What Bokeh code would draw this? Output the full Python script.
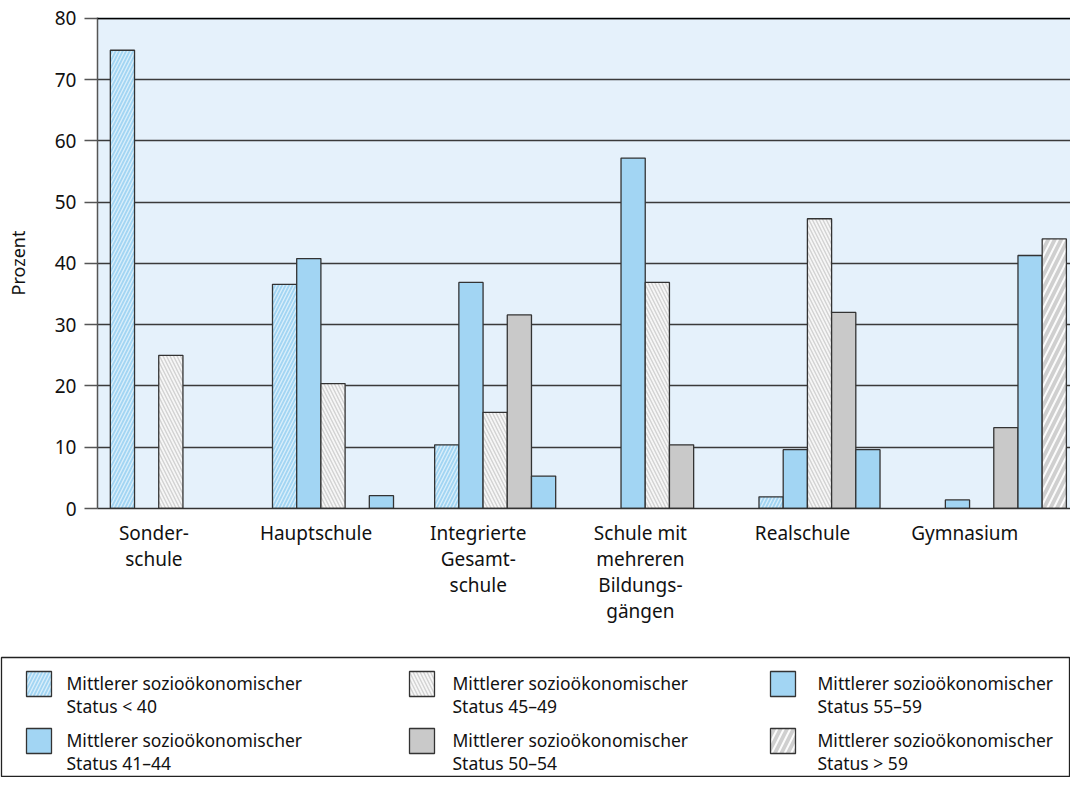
from bokeh.plotting import figure
from bokeh.models import Range1d, FixedTicker, ColumnDataSource, Span
from bokeh.embed import file_html
from bokeh.resources import INLINE

# ---------------- data ----------------
categories = [
    "Sonder-\nschule",
    "Hauptschule",
    "Integrierte\nGesamt-\nschule",
    "Schule mit\nmehreren\nBildungs-\ngängen",
    "Realschule",
    "Gymnasium",
]
series_labels = [
    "Mittlerer sozioökonomischer\nStatus < 40",
    "Mittlerer sozioökonomischer\nStatus 41–44",
    "Mittlerer sozioökonomischer\nStatus 45–49",
    "Mittlerer sozioökonomischer\nStatus 50–54",
    "Mittlerer sozioökonomischer\nStatus 55–59",
    "Mittlerer sozioökonomischer\nStatus > 59",
]
status_lt40 = [74.8, 36.6, 10.4, 0.0, 1.9, 0.0]
status_41_44 = [0.0, 40.8, 36.9, 57.2, 9.6, 1.4]
status_45_49 = [25.0, 20.4, 15.7, 36.9, 47.3, 0.0]
status_50_54 = [0.0, 0.0, 31.6, 10.4, 32.0, 13.2]
status_55_59 = [0.0, 2.1, 5.3, 0.0, 9.6, 41.3]
status_gt59 = [0.0, 0.0, 0.0, 0.0, 0.0, 44.0]
y_ticks = [0, 10, 20, 30, 40, 50, 60, 70, 80]

series_values = [status_lt40, status_41_44, status_45_49,
                 status_50_54, status_55_59, status_gt59]

# ---------------- styles ----------------
FONT = "Noto Sans"
BLUE = "#a2d5f3"
GRAY = "#c9c9c9"
OUTLINE = "#333333"
styles = [
    dict(fill_color=BLUE, hatch_pattern="/", hatch_color="white", hatch_alpha=0.6,
         hatch_scale=7, hatch_weight=1.3),
    dict(fill_color=BLUE),
    dict(fill_color="#f6f6f6", hatch_pattern="\\", hatch_color="#d2d2d2", hatch_alpha=1.0,
         hatch_scale=7, hatch_weight=1.4),
    dict(fill_color=GRAY),
    dict(fill_color=BLUE),
    dict(fill_color="#fbfbfb", hatch_pattern="/", hatch_color="#cfcfcf", hatch_alpha=1.0,
         hatch_scale=13, hatch_weight=3.8),
]

GROUP_STRIDE = 6.7   # slots per category (6 bars + gap)
LABEL_OFFSET = 1.8

# ---------------- main chart ----------------
p = figure(width=1070, height=656,
           x_range=Range1d(-0.53, 39.67), y_range=Range1d(0, 80.15),
           output_backend="svg", toolbar_location=None,
           min_border_left=97, min_border_top=17, min_border_right=0,
           min_border_bottom=148)
p.background_fill_color = "#e5f1fb"
p.border_fill_color = "white"
p.outline_line_color = None
p.xgrid.visible = False
p.ygrid.grid_line_color = "#3a3a3a"
p.ygrid.grid_line_width = 1.3

for si, (vals, st) in enumerate(zip(series_values, styles)):
    left, right, top, bottom = [], [], [], []
    for gi, v in enumerate(vals):
        if v <= 0:
            continue
        x0 = gi * GROUP_STRIDE + si
        left.append(x0)
        right.append(x0 + 1)
        top.append(v)
        bottom.append(0)
    src = ColumnDataSource(dict(left=left, right=right, top=top, bottom=bottom))
    p.quad(left="left", right="right", top="top", bottom="bottom", source=src,
           line_color=OUTLINE, line_width=1.3, **st)

p.add_layout(Span(location=80, dimension="width", line_color="black", line_width=1.5))

# y axis
yax = p.yaxis[0]
yax.ticker = FixedTicker(ticks=y_ticks)
yax.axis_label = "Prozent"
yax.axis_label_text_font = FONT
yax.axis_label_text_font_size = "18px"
yax.axis_label_text_font_style = "normal"
yax.axis_label_text_color = "#111111"
yax.axis_label_standoff = 22
yax.major_label_text_font = FONT
yax.major_label_text_font_size = "19px"
yax.major_label_text_color = "#111111"
yax.major_label_standoff = 8
yax.major_tick_out = 13
yax.major_tick_in = 0
yax.minor_tick_out = 0
yax.minor_tick_in = 0
yax.axis_line_color = "#555555"
yax.axis_line_width = 1.5
yax.major_tick_line_color = "#555555"
yax.major_tick_line_width = 1.5

# x axis
label_pos = [round(gi * GROUP_STRIDE + LABEL_OFFSET, 3) for gi in range(len(categories))]
xax = p.xaxis[0]
xax.ticker = FixedTicker(ticks=label_pos)
xax.major_label_overrides = {pos: cat for pos, cat in zip(label_pos, categories)}
xax.major_label_text_font = FONT
xax.major_label_text_font_size = "19px"
xax.major_label_text_color = "#111111"
xax.major_label_text_line_height = 1.0
xax.major_label_standoff = 11
xax.major_tick_out = 0
xax.major_tick_in = 0
xax.minor_tick_out = 0
xax.minor_tick_in = 0
xax.axis_line_color = "#333333"
xax.axis_line_width = 1.5

# ---------------- legend box (separate root, stacked below) ----------------
lg = figure(width=1070, height=121,
            x_range=Range1d(0, 1068), y_range=Range1d(120, 0),
            output_backend="svg", toolbar_location=None,
            min_border_left=1, min_border_top=1, min_border_right=1, min_border_bottom=0)
lg.axis.visible = False
lg.grid.visible = False
lg.outline_line_color = "#222222"
lg.outline_line_width = 1.3
lg.background_fill_color = "white"
lg.border_fill_color = "white"

col_left = [25, 408, 769]
text_left = [65, 451, 816]
row_top = [14, 71]
SZ = 25
for si, st in enumerate(styles):
    c, r = divmod(si, 2)
    x0, y0 = col_left[c], row_top[r]
    lg.quad(left=[x0], right=[x0 + SZ], top=[y0], bottom=[y0 + SZ],
            line_color=OUTLINE, line_width=1.3, **st)
    lg.text(x=[text_left[c]], y=[y0 - 1], text=[series_labels[si]],
            text_font={"value": FONT}, text_font_size={"value": "17.5px"},
            text_color="#111111", text_baseline="top", text_align="left",
            text_line_height=0.98)

open("out.html", "w").write(file_html([p, lg], INLINE))
